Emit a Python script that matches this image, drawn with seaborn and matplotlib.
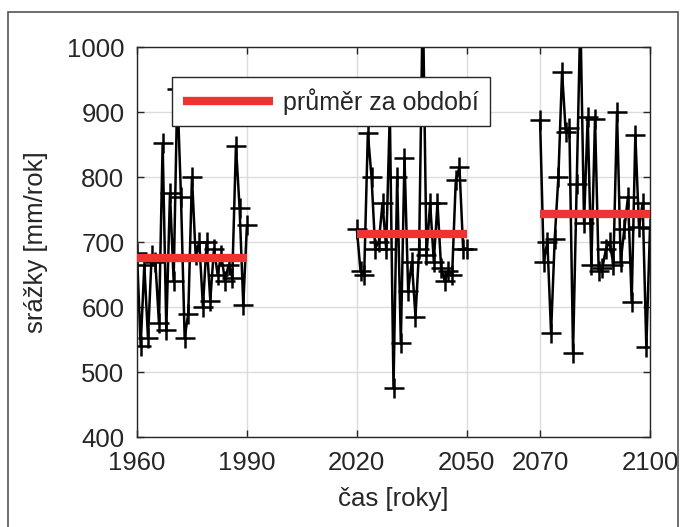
import numpy as np
import pandas as pd
import matplotlib
matplotlib.use("Agg")
import matplotlib.pyplot as plt
from matplotlib.lines import Line2D
from matplotlib.patches import Rectangle
import seaborn as sns

# ---- data ----
years_1 = list(range(1960, 1991))
precip_1 = [683, 540, 665, 552, 680, 670, 575, 852, 565, 775, 640, 935, 770, 553, 590,
            800, 680, 700, 600, 700, 610, 690, 650, 680, 640, 665, 645, 848, 752, 603, 726]
years_2 = list(range(2020, 2051))
precip_2 = [720, 655, 650, 868, 800, 690, 700, 760, 690, 900, 475, 800, 545, 830, 625,
            670, 585, 690, 1080, 680, 760, 670, 760, 660, 640, 655, 650, 795, 815, 690, 690]
years_3 = list(range(2070, 2101))
precip_3 = [888, 670, 700, 560, 705, 800, 962, 870, 875, 530, 790, 1050, 730, 892, 665,
            890, 655, 660, 690, 700, 665, 900, 670, 720, 770, 607, 865, 723, 760, 538, 722]

period_start = [1960, 2020, 2070]
period_end = [1990, 2050, 2100]
period_mean = [675, 713, 743]

x_ticks = [1960, 1990, 2020, 2050, 2070, 2100]
y_ticks = [400, 500, 600, 700, 800, 900, 1000]
legend_label = "průměr za období"
x_label = "čas [roky]"
y_label = "srážky [mm/rok]"

# ---- styling ----
sns.set_theme(style="whitegrid")
plt.rcParams["font.family"] = ["Liberation Sans", "DejaVu Sans"]

W, H = 682, 527
fig = plt.figure(figsize=(W / 100, H / 100), dpi=100)
fig.patch.set_facecolor("white")
ax = fig.add_axes([137 / W, 1 - 437 / H, 513 / W, 390 / H])
ax.set_facecolor("white")

df = pd.DataFrame({
    "year": years_1 + years_2 + years_3,
    "precip": precip_1 + precip_2 + precip_3,
    "period": [0] * len(years_1) + [1] * len(years_2) + [2] * len(years_3),
})
sns.lineplot(data=df, x="year", y="precip", units="period", estimator=None,
             color="black", linewidth=1.8, marker="+", markersize=14,
             markeredgewidth=1.8, markeredgecolor="black", legend=False,
             ax=ax, zorder=2)

mean_df = pd.DataFrame({
    "year": period_start + period_end,
    "mean": period_mean + period_mean,
    "period": [0, 1, 2, 0, 1, 2],
})
red = "#ee3333"
sns.lineplot(data=mean_df, x="year", y="mean", units="period", estimator=None,
             color=red, linewidth=6, legend=False, ax=ax, zorder=3)
for ln in ax.lines[-3:]:
    ln.set_solid_capstyle("butt")

ax.set_xlim(1960, 2100)
ax.set_ylim(400, 1000)
ax.set_xticks(x_ticks)
ax.set_yticks(y_ticks)
ax.grid(True, color="#dcdcdc", linewidth=1.0)
for sp in ax.spines.values():
    sp.set_visible(True)
    sp.set_color("#262626")
    sp.set_linewidth(1.0)
ax.tick_params(direction="in", length=5, width=1, colors="#262626",
               labelsize=18.5, labelcolor="#262626", top=True, right=True,
               bottom=True, left=True)
ax.tick_params(axis="x", pad=10)
ax.tick_params(axis="y", pad=9)
ax.set_xlabel(x_label, fontsize=18.5, color="#262626", labelpad=9)
ax.set_ylabel(y_label, fontsize=18.5, color="#262626", labelpad=14)

handle = Line2D([0], [0], color=red, linewidth=6, solid_capstyle="butt")
leg = ax.legend([handle], [legend_label], loc="upper left",
                bbox_to_anchor=(0.068, 0.924), fontsize=18, frameon=True,
                fancybox=False, framealpha=1, handlelength=3.6,
                borderpad=0.45, handletextpad=0.4, borderaxespad=0)
leg.get_frame().set_edgecolor("#262626")
leg.get_frame().set_linewidth(1.0)
leg.set_zorder(5)

# outer frame around the figure
fig.patches.append(Rectangle((8 / W, -0.02), (678 - 8) / W, 1 - 12 / H + 0.02,
                             transform=fig.transFigure, fill=False,
                             edgecolor="#555555", linewidth=1.2))

fig.savefig("out.png", dpi=100)
